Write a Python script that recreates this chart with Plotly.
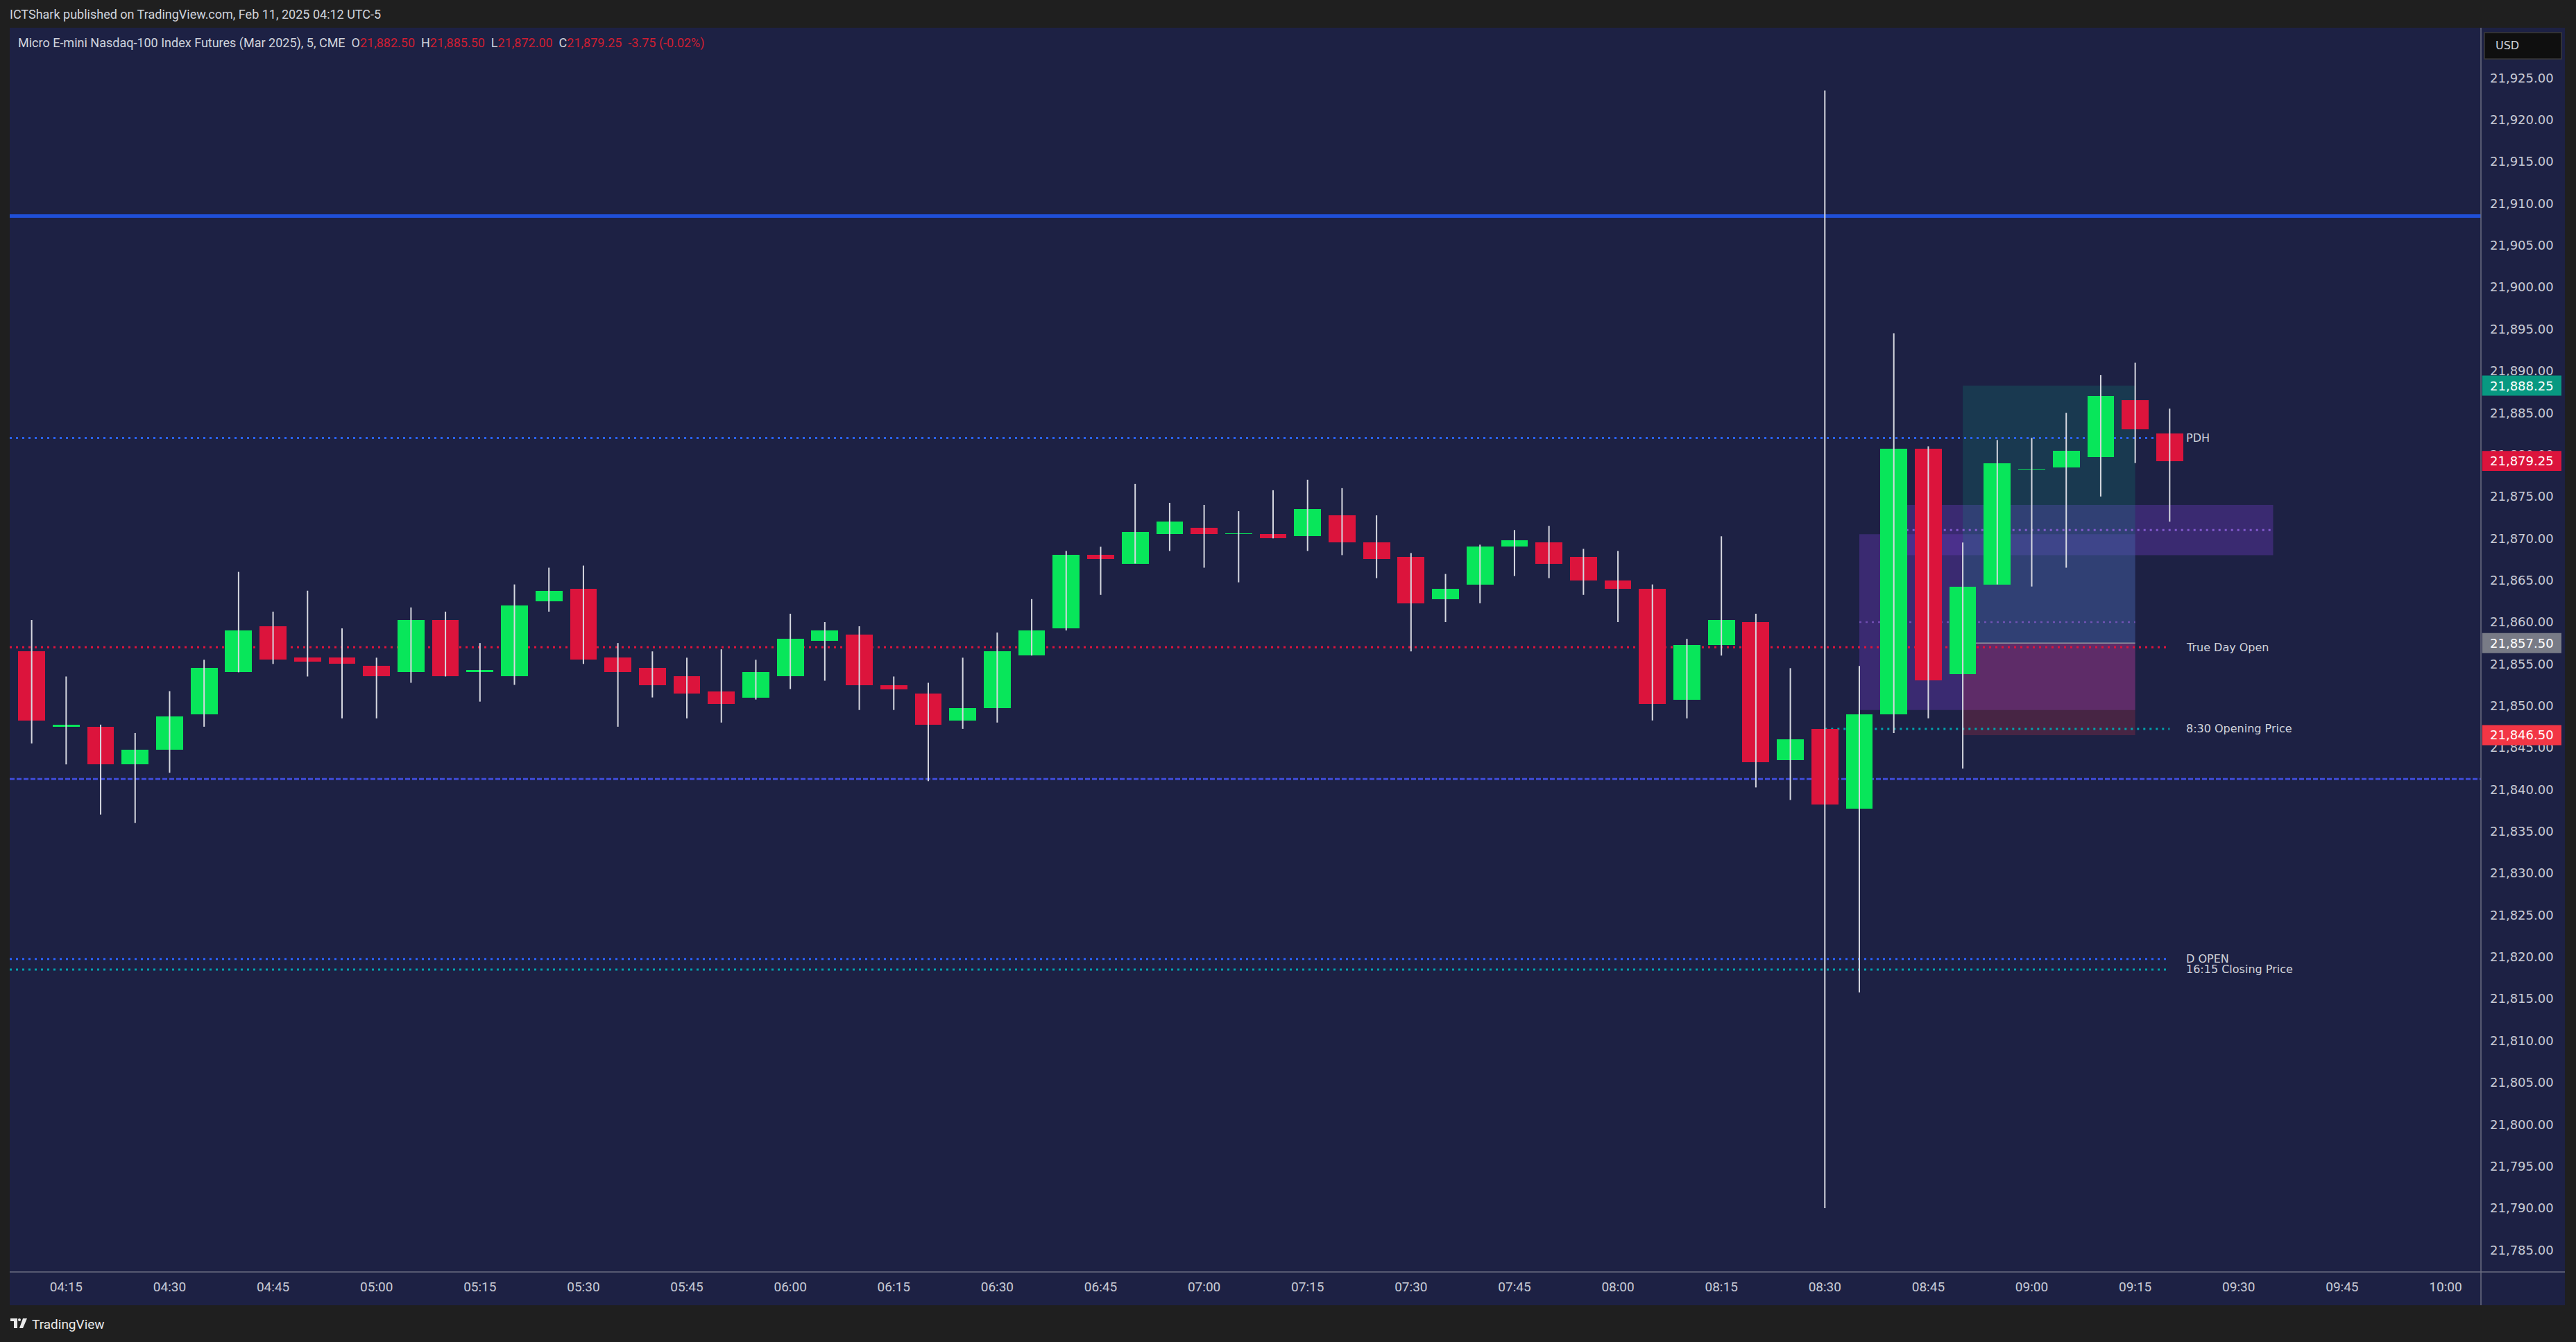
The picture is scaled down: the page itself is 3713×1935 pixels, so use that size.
import plotly.graph_objects as go

# ---------------- data ----------------
DAY = "2025-02-11"
TIMES = ["04:10", "04:15", "04:20", "04:25", "04:30", "04:35", "04:40", "04:45", "04:50", "04:55",
         "05:00", "05:05", "05:10", "05:15", "05:20", "05:25", "05:30", "05:35", "05:40", "05:45",
         "05:50", "05:55", "06:00", "06:05", "06:10", "06:15", "06:20", "06:25", "06:30", "06:35",
         "06:40", "06:45", "06:50", "06:55", "07:00", "07:05", "07:10", "07:15", "07:20", "07:25",
         "07:30", "07:35", "07:40", "07:45", "07:50", "07:55", "08:00", "08:05", "08:10", "08:15",
         "08:20", "08:25", "08:30", "08:35", "08:40", "08:45", "08:50", "08:55", "09:00", "09:05",
         "09:10", "09:15", "09:20"]
OPEN = [21856.5, 21847.5, 21847.5, 21843.0, 21844.75, 21849.0, 21854.0, 21859.5, 21855.75, 21855.75,
        21854.75, 21854.0, 21860.25, 21854.0, 21853.5, 21862.5, 21864.0, 21855.75, 21854.5, 21853.5,
        21851.75, 21851.0, 21853.5, 21857.75, 21858.5, 21852.5, 21851.5, 21848.25, 21849.75, 21856.0,
        21859.25, 21868.0, 21867.0, 21870.5, 21871.25, 21870.5, 21870.5, 21870.25, 21872.75, 21869.5,
        21867.75, 21862.75, 21864.5, 21869.0, 21869.5, 21867.75, 21865.0, 21864.0, 21850.75, 21857.25,
        21860.0, 21843.5, 21847.25, 21837.75, 21849.0, 21880.75, 21853.75, 21864.5, 21878.25, 21878.5,
        21879.75, 21886.5, 21882.5]
HIGH = [21860.25, 21853.5, 21847.75, 21846.75, 21851.75, 21855.5, 21866.0, 21861.25, 21863.75, 21859.25,
        21855.75, 21861.75, 21861.25, 21857.5, 21864.5, 21866.5, 21866.75, 21857.5, 21856.5, 21855.75,
        21856.75, 21855.5, 21861.0, 21860.0, 21859.5, 21853.5, 21852.75, 21855.75, 21858.75, 21862.75,
        21868.5, 21869.0, 21876.5, 21874.25, 21874.0, 21873.25, 21875.75, 21877.0, 21876.0, 21872.75,
        21868.25, 21865.75, 21869.25, 21871.0, 21871.5, 21868.75, 21868.5, 21864.5, 21858.0, 21870.25,
        21861.0, 21854.5, 21923.5, 21854.75, 21894.5, 21881.0, 21869.5, 21881.75, 21882.0, 21885.0,
        21889.5, 21891.0, 21885.5]
LOW = [21845.5, 21843.0, 21837.0, 21836.0, 21842.0, 21847.5, 21854.0, 21855.0, 21853.5, 21848.5,
       21848.5, 21852.75, 21853.5, 21850.5, 21852.5, 21861.25, 21855.0, 21847.5, 21851.0, 21848.5,
       21848.0, 21850.75, 21852.0, 21853.0, 21849.5, 21849.5, 21841.0, 21847.25, 21848.0, 21856.0,
       21859.0, 21863.25, 21867.0, 21868.5, 21866.5, 21864.75, 21870.0, 21868.5, 21868.0, 21865.25,
       21856.5, 21860.0, 21862.25, 21865.5, 21865.25, 21863.25, 21860.0, 21848.25, 21848.5, 21856.0,
       21840.25, 21838.75, 21790.0, 21815.75, 21846.75, 21848.5, 21842.5, 21864.5, 21864.25, 21866.5,
       21875.0, 21879.0, 21872.0]
CLOSE = [21848.25, 21847.75, 21843.0, 21844.75, 21848.75, 21854.5, 21859.0, 21855.5, 21855.25, 21855.0,
         21853.5, 21860.25, 21853.5, 21854.25, 21862.0, 21863.75, 21855.5, 21854.0, 21852.5, 21851.5,
         21850.25, 21854.0, 21858.0, 21859.0, 21852.5, 21852.0, 21847.75, 21849.75, 21856.5, 21859.0,
         21868.0, 21867.5, 21870.75, 21872.0, 21870.5, 21870.5, 21870.0, 21873.5, 21869.5, 21867.5,
         21862.25, 21864.0, 21869.0, 21869.75, 21867.0, 21865.0, 21864.0, 21850.25, 21857.25, 21860.25,
         21843.25, 21846.0, 21838.25, 21849.0, 21880.75, 21853.0, 21864.25, 21879.0, 21878.25, 21880.5,
         21887.0, 21883.0, 21879.25]

# horizontal levels
THICK_LEVEL = 21908.5
PDH = 21882.0
TRUE_DAY_OPEN = 21857.0
DASHED_LEVEL = 21841.25
D_OPEN = 21819.75
CLOSE_1615 = 21818.5

# zones
PURPLE_RECT = {"t0": "08:35", "t1": "09:15", "lo": 21849.5, "hi": 21870.5}
FVG_BAND = {"t0": "08:40", "t1": "09:35", "lo": 21868.0, "hi": 21874.0}
POSITION = {"t0": "08:50", "t1": "09:15", "stop": 21846.5, "entry": 21857.5, "target": 21888.25}

# price-scale badges
BADGE_PRICES = [21888.25, 21879.25, 21857.50, 21846.50]
BADGE_COLORS = ["#089981", "#dc143c", "#787b86", "#f23645"]

Y_TICKS = list(range(21785, 21930, 5))
X_TICKS = ["04:15", "04:30", "04:45", "05:00", "05:15", "05:30", "05:45", "06:00", "06:15", "06:30",
           "06:45", "07:00", "07:15", "07:30", "07:45", "08:00", "08:15", "08:30", "08:45", "09:00",
           "09:15", "09:30", "09:45", "10:00"]
X_RANGE = ["2025-02-11 04:06:49", "2025-02-11 10:05:08"]
Y_RANGE = [21782.37, 21931.0]

HEADER_NAME = "Micro E-mini Nasdaq-100 Index Futures (Mar 2025), 5, CME"
PUBLISHED = "ICTShark published on TradingView.com, Feb 11, 2025 04:12 UTC-5"

# ---------------- layout geometry ----------------
W, H = 3713, 1935
ML, MR, MT, MB = 14, 137, 40, 101
PW, PH = W - ML - MR, H - MT - MB


def px_x(px):
    return (px - ML) / PW


def px_y(py):
    return (H - MB - py) / PH


def ts(hhmm):
    return f"{DAY} {hhmm}:00"


BG = "#1d2144"
FRAME = "#1f1f1f"
UP = "#08e65a"
DOWN = "#dc143c"
WICK = "#d6d8e0"
TEXT = "#d1d4dc"

X = [ts(t) for t in TIMES]
BAR_MS = 0.78 * 5 * 60 * 1000

bases = [min(o, c) for o, c in zip(OPEN, CLOSE)]
heights = [max(abs(c - o), 0.1) for o, c in zip(OPEN, CLOSE)]
colors = [UP if c >= o else DOWN for o, c in zip(OPEN, CLOSE)]

wx, wy = [], []
for xi, lo, hi in zip(X, LOW, HIGH):
    wx += [xi, xi, None]
    wy += [lo, hi, None]

fig = go.Figure()
fig.add_trace(go.Scatter(x=wx, y=wy, mode="lines", line=dict(color=WICK, width=2),
                         hoverinfo="skip", showlegend=False))
fig.add_trace(go.Bar(x=X, y=heights, base=bases, width=BAR_MS, marker=dict(color=colors, line=dict(width=0)),
                     hoverinfo="skip", showlegend=False))

shapes = []
# panel background (including axes area)
shapes.append(dict(type="rect", xref="paper", yref="paper", x0=0, x1=px_x(3697), y0=px_y(1882), y1=1,
                   fillcolor=BG, line=dict(width=0), layer="below"))

# zones
shapes.append(dict(type="rect", xref="x", yref="y", x0=ts(PURPLE_RECT["t0"]), x1=ts(PURPLE_RECT["t1"]),
                   y0=PURPLE_RECT["lo"], y1=PURPLE_RECT["hi"], fillcolor="rgba(103,58,183,0.40)",
                   line=dict(width=0), layer="below"))
shapes.append(dict(type="rect", xref="x", yref="y", x0=ts(FVG_BAND["t0"]), x1=ts(FVG_BAND["t1"]),
                   y0=FVG_BAND["lo"], y1=FVG_BAND["hi"], fillcolor="rgba(103,58,183,0.40)",
                   line=dict(width=0), layer="below"))
shapes.append(dict(type="rect", xref="x", yref="y", x0=ts(POSITION["t0"]), x1=ts(POSITION["t1"]),
                   y0=POSITION["entry"], y1=POSITION["target"], fillcolor="rgba(8,153,129,0.20)",
                   line=dict(width=0), layer="below"))
shapes.append(dict(type="rect", xref="x", yref="y", x0=ts(POSITION["t0"]), x1=ts(POSITION["t1"]),
                   y0=POSITION["stop"], y1=POSITION["entry"], fillcolor="rgba(242,54,69,0.20)",
                   line=dict(width=0), layer="below"))
shapes.append(dict(type="line", xref="x", yref="y", x0=ts(POSITION["t0"]), x1=ts(POSITION["t1"]),
                   y0=POSITION["entry"], y1=POSITION["entry"], line=dict(color="#9598a1", width=1.5),
                   layer="below"))

# midlines of zones
rect_mid = (PURPLE_RECT["lo"] + PURPLE_RECT["hi"]) / 2
fvg_mid = (FVG_BAND["lo"] + FVG_BAND["hi"]) / 2
shapes.append(dict(type="line", xref="x", yref="y", x0=ts(PURPLE_RECT["t0"]), x1=ts(PURPLE_RECT["t1"]),
                   y0=rect_mid, y1=rect_mid, line=dict(color="rgba(126,87,194,0.8)", width=2.5, dash="3px,6px"),
                   layer="below"))
shapes.append(dict(type="line", xref="x", yref="y", x0=ts(FVG_BAND["t0"]), x1=ts(FVG_BAND["t1"]),
                   y0=fvg_mid, y1=fvg_mid, line=dict(color="#8159cc", width=3, dash="3px,6px"),
                   layer="below"))

LAST_T = X[-1]
OPEN_830 = OPEN[TIMES.index("08:30")]

# full-width lines
shapes.append(dict(type="line", xref="paper", yref="y", x0=0, x1=1, y0=THICK_LEVEL, y1=THICK_LEVEL,
                   line=dict(color="#1f4fd8", width=5), layer="below"))
shapes.append(dict(type="line", xref="paper", yref="y", x0=0, x1=1, y0=DASHED_LEVEL, y1=DASHED_LEVEL,
                   line=dict(color="#3f4bd6", width=3, dash="7px,3px"), layer="below"))
# lines ending at the last candle
for lvl, col in [(PDH, "#2962ff"), (TRUE_DAY_OPEN, "#e0133c"), (D_OPEN, "#2962ff"), (CLOSE_1615, "#00a3ad")]:
    shapes.append(dict(type="line", xref="x", yref="y", x0=X_RANGE[0], x1=LAST_T, y0=lvl, y1=lvl,
                       line=dict(color=col, width=3, dash="3px,6px"), layer="below"))
shapes.append(dict(type="line", xref="x", yref="y", x0=ts("08:30"), x1=LAST_T, y0=OPEN_830, y1=OPEN_830,
                   line=dict(color="#00a3ad", width=3, dash="3px,6px"), layer="below"))

# axis separators
SEP = "#6a6d80"
shapes.append(dict(type="line", xref="paper", yref="paper", x0=1, x1=1, y0=px_y(1882), y1=1,
                   line=dict(color=SEP, width=1.5), layer="above"))
shapes.append(dict(type="line", xref="paper", yref="paper", x0=0, x1=px_x(3697), y0=0, y1=0,
                   line=dict(color=SEP, width=1.5), layer="above"))

# price badges
badge_half = 1.2
for p, c in zip(BADGE_PRICES, BADGE_COLORS):
    shapes.append(dict(type="rect", xref="paper", yref="y", x0=1.0005, x1=px_x(3692), y0=p - badge_half,
                       y1=p + badge_half, fillcolor=c, line=dict(width=0), layer="above"))

# USD box
shapes.append(dict(type="rect", xref="paper", yref="paper", x0=px_x(3581), x1=px_x(3692), y0=px_y(85),
                   y1=px_y(47), fillcolor="#0f0f0f", line=dict(color="#3a3a3a", width=1.5), layer="above"))

# TradingView logo glyph
logo = (f"M {px_x(15)},{px_y(1901)} L {px_x(25)},{px_y(1901)} L {px_x(25)},{px_y(1915)} "
        f"L {px_x(20)},{px_y(1915)} L {px_x(20)},{px_y(1905)} L {px_x(15)},{px_y(1905)} Z "
        f"M {px_x(33)},{px_y(1901)} L {px_x(39)},{px_y(1901)} L {px_x(33)},{px_y(1915)} "
        f"L {px_x(28)},{px_y(1915)} Z")
shapes.append(dict(type="path", xref="paper", yref="paper", path=logo, fillcolor="#e8e8e8",
                   line=dict(width=0), layer="above"))
shapes.append(dict(type="circle", xref="paper", yref="paper", x0=px_x(26), x1=px_x(30), y0=px_y(1905),
                   y1=px_y(1901), fillcolor="#e8e8e8", line=dict(width=0), layer="above"))

annotations = []
LABEL_FONT = dict(family="DejaVu Sans, Verdana, sans-serif", size=16, color=TEXT)
for txt, lvl in [("PDH", PDH), ("True Day Open", TRUE_DAY_OPEN), ("8:30 Opening Price", OPEN_830),
                 ("D OPEN", D_OPEN), ("16:15 Closing Price", CLOSE_1615)]:
    annotations.append(dict(x=LAST_T, y=lvl, xref="x", yref="y", text=txt, showarrow=False,
                            xanchor="left", yanchor="middle", xshift=22, font=LABEL_FONT))

for p in BADGE_PRICES:
    annotations.append(dict(x=1, y=p, xref="paper", yref="y", text=f"{p:,.2f}", showarrow=False,
                            xanchor="left", yanchor="middle", xshift=11,
                            font=dict(family="DejaVu Sans, sans-serif", size=18, color="#ffffff")))

annotations.append(dict(x=px_x(3595), y=px_y(66), xref="paper", yref="paper", text="USD", showarrow=False,
                        xanchor="left", yanchor="middle",
                        font=dict(family="DejaVu Sans, sans-serif", size=16, color=TEXT)))

RED_TXT = "#d01e32"
chg = CLOSE[-1] - CLOSE[-2]
ohlc = (f"{HEADER_NAME}  O<span style='color:{RED_TXT}'>{OPEN[-1]:,.2f}</span>  "
        f"H<span style='color:{RED_TXT}'>{HIGH[-1]:,.2f}</span>  "
        f"L<span style='color:{RED_TXT}'>{LOW[-1]:,.2f}</span>  "
        f"C<span style='color:{RED_TXT}'>{CLOSE[-1]:,.2f}  {chg:+.2f} "
        f"({chg / CLOSE[-2] * 100:+.2f}%)</span>")
annotations.append(dict(x=px_x(24), y=px_y(62), xref="paper", yref="paper", text=ohlc, showarrow=False,
                        xanchor="left", yanchor="middle",
                        font=dict(family="Roboto, sans-serif", size=18, color=TEXT)))
annotations.append(dict(x=px_x(12), y=px_y(21), xref="paper", yref="paper", text=PUBLISHED, showarrow=False,
                        xanchor="left", yanchor="middle",
                        font=dict(family="Roboto, sans-serif", size=18, color=TEXT)))
annotations.append(dict(x=px_x(44), y=px_y(1909), xref="paper", yref="paper", text="TradingView",
                        showarrow=False, xanchor="left", yanchor="middle",
                        font=dict(family="Roboto, sans-serif", size=19, color="#e8e8e8")))

fig.update_layout(
    width=W, height=H,
    margin=dict(l=ML, r=MR, t=MT, b=MB, pad=0),
    paper_bgcolor=FRAME, plot_bgcolor=BG,
    barmode="overlay", bargap=0,
    showlegend=False,
    shapes=shapes, annotations=annotations,
    xaxis=dict(type="date", range=X_RANGE, tickvals=[ts(t) for t in X_TICKS], ticktext=X_TICKS,
               showgrid=False, zeroline=False, showline=False, ticks="", ticklabelstandoff=8,
               tickfont=dict(family="Roboto, sans-serif", size=19, color="#c8cbd6"),
               rangeslider=dict(visible=False), fixedrange=True),
    yaxis=dict(range=Y_RANGE, side="right", tickvals=Y_TICKS, ticktext=[f"{v:,.2f}" for v in Y_TICKS],
               showgrid=False, zeroline=False, showline=False, ticks="", ticklabelstandoff=12,
               tickfont=dict(family="DejaVu Sans, sans-serif", size=18, color="#c8cbd6"), fixedrange=True),
)

fig.write_html("out.html", config={"displayModeBar": False, "staticPlot": True},
               post_script="document.body.style.margin='0';document.body.style.overflow='hidden';")
